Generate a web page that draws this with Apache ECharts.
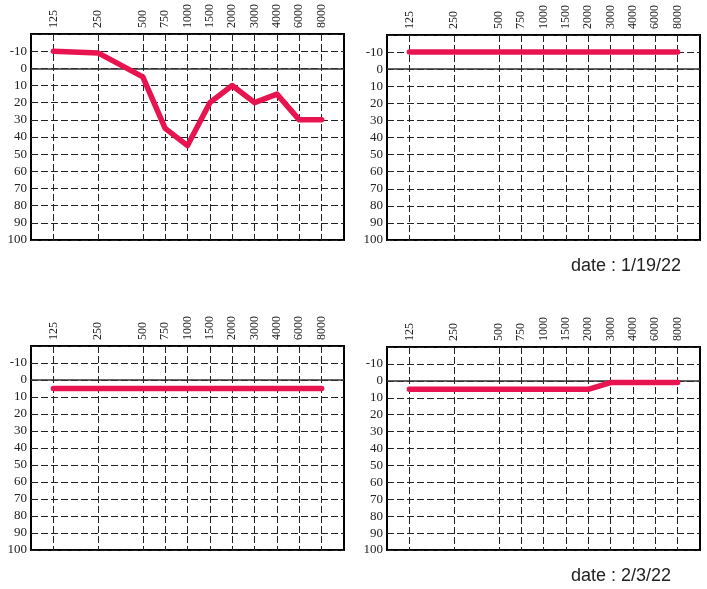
<!DOCTYPE html>
<html>
<head>
<meta charset="utf-8">
<script src="https://cdn.jsdelivr.net/npm/echarts@6/dist/echarts.min.js"></script>
<style>
  html, body { margin: 0; padding: 0; background: #fff; }
  #chart { width: 707px; height: 589px; }
</style>
</head>
<body>
<div id="chart"></div>
<script>
// frequencies (Hz) and their spacing on the audiogram axis
const freqLabels = ["125", "250", "500", "750", "1000", "1500", "2000", "3000", "4000", "6000", "8000"];
const freqPos = [0, 2, 4, 5, 6, 7, 8, 9, 10, 11, 12];

// hearing level (dB), one array per panel
const topLeft = [-10, -9, 5, 35, 45, 20, 10, 20, 15, 30, 30];
const topRight = [-10, -10, -10, -10, -10, -10, -10, -10, -10, -10, -10];
const bottomLeft = [5, 5, 5, 5, 5, 5, 5, 5, 5, 5, 5];
const bottomRight = [5, 5, 5, 5, 5, 5, 5, 1, 1, 1, 1];

const dates = ["date : 1/19/22", "date : 2/3/22"];

const panels = [topLeft, topRight, bottomLeft, bottomRight];
const grids = [
  { left: 31, top: 34, width: 313, height: 206 },
  { left: 387, top: 35, width: 313, height: 205 },
  { left: 31, top: 346, width: 313, height: 204 },
  { left: 387, top: 347, width: 313, height: 203 }
];

const labelFont = "Liberation Serif";
const red = "#e8144f";
const dateStyle = { fontFamily: "Liberation Sans", fontSize: 18, fontWeight: "normal", color: "#222" };

const option = {
  animation: false,
  backgroundColor: "#fff",
  title: [
    { text: dates[0], left: 566, top: 252, textStyle: dateStyle },
    { text: dates[1], left: 566, top: 562, textStyle: dateStyle }
  ],
  grid: grids.map(g => Object.assign({ show: true, borderColor: "#000", borderWidth: 2, backgroundColor: "#fff", containLabel: false }, g)),
  xAxis: grids.map((g, i) => ({
    type: "value",
    gridIndex: i,
    position: "top",
    min: -1,
    max: 13,
    axisLine: { show: false },
    axisTick: { show: false },
    splitLine: { show: false },
    axisLabel: {
      customValues: freqPos,
      rotate: 90,
      margin: 6,
      fontFamily: labelFont,
      fontSize: 12,
      color: "#222",
      formatter: v => freqLabels[freqPos.indexOf(v)] || ""
    }
  })),
  yAxis: grids.map((g, i) => ({
    type: "value",
    gridIndex: i,
    inverse: true,
    min: -20,
    max: 100,
    interval: 10,
    axisLine: { show: false },
    axisTick: { show: false },
    axisLabel: {
      margin: 4,
      fontFamily: labelFont,
      fontSize: 13,
      color: "#222",
      formatter: v => (v === -20 ? "" : String(v))
    },
    splitLine: { show: true, lineStyle: { color: "#222", width: 1, type: [7, 3] } }
  })),
  series: panels.map((vals, i) => ({
    type: "line",
    xAxisIndex: i,
    yAxisIndex: i,
    data: vals.map((v, k) => [freqPos[k], v]),
    showSymbol: false,
    lineStyle: { color: red, width: 5.5, cap: "round", join: "round" },
    z: 10,
    markLine: {
      silent: true,
      symbol: "none",
      label: { show: false },
      z: 3,
      data: freqPos.map(p => ({ xAxis: p, lineStyle: { color: "#222", width: 1, type: [7, 3] } }))
        .concat([{ yAxis: 0, lineStyle: { color: "#333", width: 1.5, type: "solid" } }])
    }
  }))
};

const chart = echarts.init(document.getElementById("chart"));
chart.setOption(option);
</script>
</body>
</html>
